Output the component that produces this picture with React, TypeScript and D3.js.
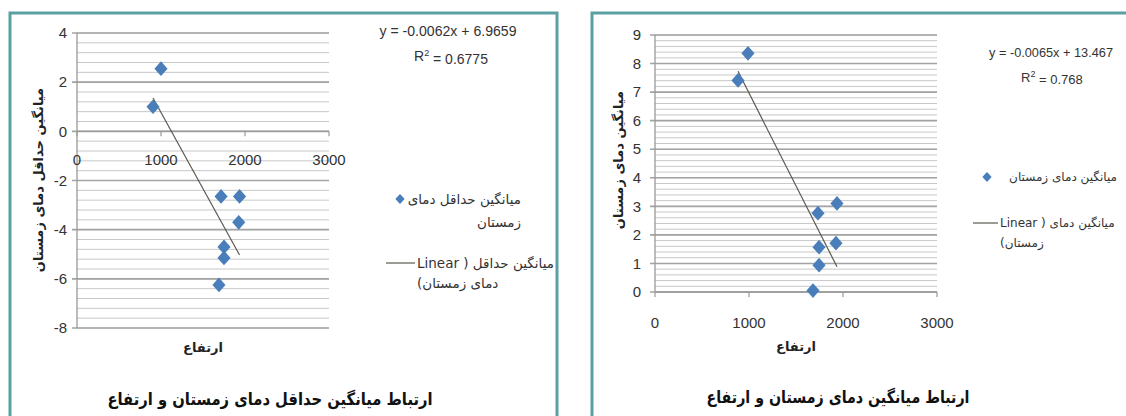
import React from "react";
import * as d3 from "d3";

// ---------- data ----------
const altitudeA = [905, 1000, 1715, 1935, 1925, 1750, 1750, 1690];
const minWinterTemp = [1.0, 2.55, -2.65, -2.65, -3.7, -4.7, -5.15, -6.25];
const altitudeB = [883, 989, 1734, 1936, 1925, 1745, 1745, 1681];
const meanWinterTemp = [7.41, 8.36, 2.76, 3.1, 1.71, 1.57, 0.94, 0.05];

const xTicks = [0, 1000, 2000, 3000];
const yTicksA = [-8, -6, -4, -2, 0, 2, 4];
const yTicksB = [0, 1, 2, 3, 4, 5, 6, 7, 8, 9];

const trendSlope = [-0.0062, -0.0065];
const trendIntercept = [6.9659, 13.467];
const equationText = ["y = -0.0062x + 6.9659", "y = -0.0065x + 13.467"];
const r2Text = ["0.6775", "0.768"];

const chartTitles = [
  "ارتباط میانگین حداقل دمای زمستان و ارتفاع",
  "ارتباط میانگین دمای زمستان و ارتفاع",
];
const yTitles = ["میانگین حداقل دمای زمستان", "میانگین دمای زمستان"];
const xTitle = "ارتفاع";
const legendSeriesLines = [["میانگین حداقل دمای", "زمستان"], ["میانگین دمای زمستان"]];
const legendTrendLines = [
  ["میانگین حداقل ( Linear", "دمای زمستان)"],
  ["میانگین دمای ( Linear", "زمستان)"],
];

const NUM_FONT = "'Liberation Sans', Arial, sans-serif";
const FA_FONT = "'DejaVu Sans', sans-serif";
const BLUE = "#4a7ebb";
const FRAME = "#5a9fa2";

type PanelProps = {
  idx: number;
  frame: { x: number; y: number; w: number; h: number };
  plot: { x0: number; x1: number; yTop: number; yBot: number };
  yDomain: [number, number];
  yTicks: number[];
  minorStep: number;
  xs: number[];
  ys: number[];
  eq: { x: number; y: number; len: number; r2len: number; fs: number };
  legend: { markerX: number; markerY: number; textRight: number; lineY: number; lineX0: number; lineX1: number; fs: number };
  yTitlePos: { x: number; y: number };
  xLabelDy: number;
  yLabelGap: number;
  titleY: number;
  titleX: number;
  titleLen: number;
  xTitleY: number;
};

function Panel(p: PanelProps) {
  const x = d3.scaleLinear().domain([0, 3000]).range([p.plot.x0, p.plot.x1]);
  const y = d3.scaleLinear().domain(p.yDomain).range([p.plot.yBot, p.plot.yTop]);
  const minor = d3.range(p.yDomain[0], p.yDomain[1] + 1e-9, p.minorStep);
  const diamond = d3.symbol().type(d3.symbolDiamond2).size(110)() as string;
  const xMin = d3.min(p.xs) as number;
  const xMax = d3.max(p.xs) as number;
  const slope = trendSlope[p.idx];
  const icpt = trendIntercept[p.idx];
  const trend = d3
    .line<number>()
    .x((v) => x(v))
    .y((v) => y(slope * v + icpt))([xMin, xMax]) as string;
  const axisY = y(Math.max(p.yDomain[0], 0));
  const cx = (p.plot.x0 + p.plot.x1) / 2;
  return (
    <g>
      <rect x={p.frame.x} y={p.frame.y} width={p.frame.w} height={p.frame.h} fill="#fff" stroke={FRAME} strokeWidth={3} />
      {minor.map((v, i) => (
        <line key={"mi" + i} x1={p.plot.x0} x2={p.plot.x1} y1={y(v)} y2={y(v)} stroke="#c8c8c8" strokeWidth={1} />
      ))}
      {p.yTicks.map((v) => (
        <line key={"ma" + v} x1={p.plot.x0 - 5} x2={p.plot.x1} y1={y(v)} y2={y(v)} stroke="#a3a3a3" strokeWidth={1.6} />
      ))}
      {/* axes */}
      <line x1={p.plot.x0} x2={p.plot.x0} y1={p.plot.yTop} y2={p.plot.yBot} stroke="#9a9a9a" strokeWidth={1.3} />
      <line x1={p.plot.x0} x2={p.plot.x1} y1={axisY} y2={axisY} stroke="#9a9a9a" strokeWidth={1.3} />
      {xTicks.map((v) => (
        <line key={"xt" + v} x1={x(v)} x2={x(v)} y1={axisY} y2={axisY + 5} stroke="#9a9a9a" strokeWidth={1.2} />
      ))}
      {p.yTicks.map((v) => (
        <text key={"yl" + v} x={p.plot.x0 - p.yLabelGap} y={y(v)} dy="0.35em" textAnchor="end" fontFamily={NUM_FONT} fontSize={15} fill="#333">
          {v}
        </text>
      ))}
      {xTicks.map((v) => (
        <text key={"xl" + v} x={x(v)} y={axisY + p.xLabelDy} dy="0.35em" textAnchor="middle" fontFamily={NUM_FONT} fontSize={15} fill="#333">
          {v}
        </text>
      ))}
      {/* trend line */}
      <path d={trend} fill="none" stroke="#5a5a50" strokeWidth={1.2} />
      {/* points */}
      {p.xs.map((v, i) => (
        <path key={"pt" + i} d={diamond} transform={`translate(${x(v)},${y(p.ys[i])}) scale(1,1.12)`} fill={BLUE} />
      ))}
      {/* equation */}
      <text x={p.eq.x - p.eq.len / 2} y={p.eq.y} dy="0.35em" textLength={p.eq.len} lengthAdjust="spacingAndGlyphs" fontFamily={NUM_FONT} fontSize={p.eq.fs} fill="#333">
        {equationText[p.idx]}
      </text>
      <text x={p.eq.x - p.eq.r2len / 2} y={p.eq.y + 25} dy="0.35em" fontFamily={NUM_FONT} fontSize={p.eq.fs} fill="#333">
        R<tspan fontSize={9} dy="-0.55em">2</tspan>
        <tspan dy="0.55em">{" = " + r2Text[p.idx]}</tspan>
      </text>
      {/* legend */}
      <path d={d3.symbol().type(d3.symbolDiamond2).size(55)() as string} transform={`translate(${p.legend.markerX},${p.legend.markerY}) scale(1,1.1)`} fill={BLUE} />
      {legendSeriesLines[p.idx].map((t, i) => (
        <text key={"ls" + i} x={p.legend.textRight} y={p.legend.markerY + i * 23} dy="0.35em" direction="rtl" textAnchor="start" fontFamily={FA_FONT} fontSize={p.legend.fs} fill="#333">
          {t}
        </text>
      ))}
      <line x1={p.legend.lineX0} x2={p.legend.lineX1} y1={p.legend.lineY} y2={p.legend.lineY} stroke="#5a5a50" strokeWidth={1.2} />
      {legendTrendLines[p.idx].map((t, i) => (
        <text key={"lt" + i} x={p.legend.lineX1 + 2} y={p.legend.lineY + i * 20} dy="0.35em" direction="rtl" textAnchor="end" fontFamily={FA_FONT} fontSize={p.legend.fs} fill="#333">
          {t}
        </text>
      ))}
      {/* axis titles */}
      <text x={p.yTitlePos.x} y={p.yTitlePos.y} transform={`rotate(-90 ${p.yTitlePos.x} ${p.yTitlePos.y})`} dy="0.35em" textAnchor="middle" direction="rtl" fontFamily={FA_FONT} fontWeight="bold" fontSize={13} fill="#222">
        {yTitles[p.idx]}
      </text>
      <text x={cx} y={p.xTitleY} dy="0.35em" textAnchor="middle" direction="rtl" fontFamily={FA_FONT} fontWeight="bold" fontSize={13} fill="#222">
        {xTitle}
      </text>
      <text x={p.titleX + p.titleLen / 2} y={p.titleY} dy="0.35em" textAnchor="start" direction="rtl" textLength={p.titleLen} lengthAdjust="spacingAndGlyphs" fontFamily={FA_FONT} fontWeight="bold" fontSize={17} fill="#111">
        {chartTitles[p.idx]}
      </text>
    </g>
  );
}

export default function App() {
  return (
    <div style={{ position: "fixed", left: 0, top: 0, width: 1126, height: 416, background: "#fff" }}>
      <svg width={1126} height={416} style={{ display: "block" }}>
        <rect width={1126} height={416} fill="#fff" />
        <Panel
          idx={0}
          frame={{ x: 10, y: 13, w: 547, h: 430 }}
          plot={{ x0: 77, x1: 329, yTop: 33, yBot: 328 }}
          yDomain={[-8, 4]}
          yTicks={yTicksA}
          minorStep={0.4}
          xs={altitudeA}
          ys={minWinterTemp}
          eq={{ x: 448, y: 31, len: 137, r2len: 68, fs: 14 }}
          legend={{ markerX: 400, markerY: 199, textRight: 521, lineY: 263, lineX0: 386, lineX1: 415, fs: 13.5 }}
          yTitlePos={{ x: 38, y: 180 }}
          xLabelDy={28}
          yLabelGap={10}
          titleX={270}
          titleY={399}
          titleLen={325}
          xTitleY={347}
        />
        <Panel
          idx={1}
          frame={{ x: 592, y: 13, w: 560, h: 430 }}
          plot={{ x0: 655, x1: 937, yTop: 35, yBot: 292 }}
          yDomain={[0, 9]}
          yTicks={yTicksB}
          minorStep={0.2}
          xs={altitudeB}
          ys={meanWinterTemp}
          eq={{ x: 1051, y: 52, len: 124, r2len: 60, fs: 13 }}
          legend={{ markerX: 987, markerY: 177, textRight: 1117, lineY: 223, lineX0: 973, lineX1: 998, fs: 12 }}
          yTitlePos={{ x: 618, y: 160 }}
          xLabelDy={31}
          yLabelGap={14}
          titleX={838}
          titleY={397}
          titleLen={263}
          xTitleY={346}
        />
      </svg>
    </div>
  );
}
